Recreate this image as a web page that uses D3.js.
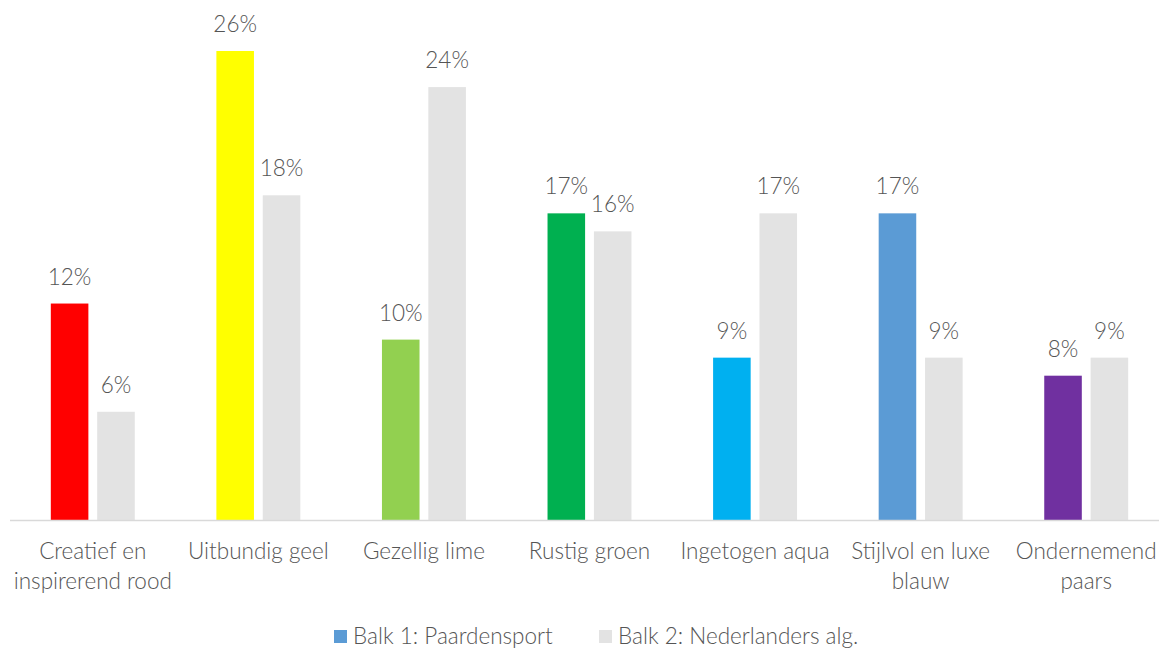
<!DOCTYPE html>
<html>
<head>
<meta charset="utf-8">
<script src="https://cdn.jsdelivr.net/npm/d3@7"></script>
<style>
  body { margin: 0; background: #fff; }
  text { font-family: "Lato", "Open Sans", sans-serif; font-weight: 300; fill: #555; }
</style>
</head>
<body>
<div id="chart"></div>
<script>
// data
const categories = ["Creatief en inspirerend rood", "Uitbundig geel", "Gezellig lime", "Rustig groen",
  "Ingetogen aqua", "Stijlvol en luxe blauw", "Ondernemend paars"];
const labelLines = [["Creatief en", "inspirerend rood"], ["Uitbundig geel"], ["Gezellig lime"], ["Rustig groen"],
  ["Ingetogen aqua"], ["Stijlvol en luxe", "blauw"], ["Ondernemend", "paars"]];
const paardensport = [12, 26, 10, 17, 9, 17, 8];
const nederlanders = [6, 18, 24, 16, 17, 9, 9];
const barColors = ["#ff0000", "#ffff00", "#92d050", "#00b050", "#00b0f0", "#5b9bd5", "#7030a0"];
const seriesNames = ["Balk 1: Paardensport", "Balk 2: Nederlanders alg."];
const greyColor = "#e3e3e3";

const W = 1159, H = 648;
const fontSize = "22.5px";

const svg = d3.select("#chart")
  .append("svg")
    .attr("width", W)
    .attr("height", H);

const x0 = d3.scaleBand()
  .domain(categories)
  .range([10, 1169]);

const x1 = d3.scaleBand()
  .domain([0, 1])
  .range([0, x0.bandwidth()])
  .paddingInner(0.19)
  .paddingOuter(0.88);

const y = d3.scaleLinear()
  .domain([0, 26])
  .range([520, 51]);

const rows = categories.map((c, i) => ({
  cat: c, i,
  vals: [
    { s: 0, v: paardensport[i], color: barColors[i] },
    { s: 1, v: nederlanders[i], color: greyColor }
  ]
}));

const groups = svg.selectAll("g.grp")
  .data(rows)
  .enter()
  .append("g")
    .attr("class", "grp")
    .attr("transform", d => `translate(${x0(d.cat)},0)`);

groups.selectAll("rect")
  .data(d => d.vals)
  .enter()
  .append("rect")
    .attr("x", d => x1(d.s))
    .attr("y", d => y(d.v))
    .attr("width", x1.bandwidth())
    .attr("height", d => y(0) - y(d.v))
    .style("fill", d => d.color);

// value labels
groups.selectAll("text.val")
  .data(d => d.vals)
  .enter()
  .append("text")
    .attr("class", "val")
    .attr("x", d => x1(d.s) + x1.bandwidth() / 2)
    .attr("y", d => y(d.v) - 19)
    .attr("text-anchor", "middle")
    .style("font-size", fontSize)
    .text(d => d.v + "%");

// baseline
svg.append("line")
  .attr("x1", x0.range()[0])
  .attr("x2", x0.range()[1])
  .attr("y1", y(0) + 0.5)
  .attr("y2", y(0) + 0.5)
  .style("stroke", "#d9d9d9")
  .style("stroke-width", 1.5);

// category labels
const lbl = svg.selectAll("text.cat")
  .data(rows)
  .enter()
  .append("text")
    .attr("class", "cat")
    .attr("text-anchor", "middle")
    .style("font-size", fontSize);

lbl.selectAll("tspan")
  .data(d => labelLines[d.i].map(t => ({ t, cx: x0(d.cat) + x0.bandwidth() / 2 })))
  .enter()
  .append("tspan")
    .attr("x", d => d.cx)
    .attr("y", (d, j) => 559 + j * 30)
    .text(d => d.t);

// legend
const legend = svg.append("g");
const legendX = [334, 599];
seriesNames.forEach((name, k) => {
  legend.append("rect")
    .attr("x", legendX[k])
    .attr("y", 630)
    .attr("width", 13)
    .attr("height", 13)
    .style("fill", k === 0 ? "#5b9bd5" : greyColor);
  legend.append("text")
    .attr("x", legendX[k] + 19)
    .attr("y", 644)
    .style("font-size", fontSize)
    .text(name);
});
</script>
</body>
</html>
